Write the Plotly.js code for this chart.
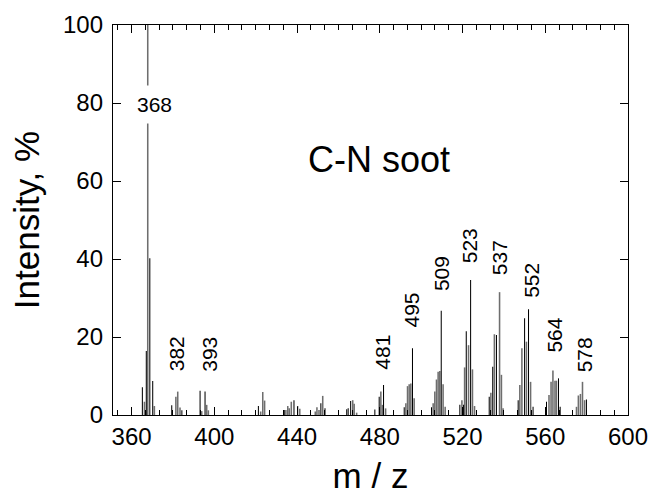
<!DOCTYPE html>
<html>
<head>
<meta charset="utf-8">
<script src="https://cdn.plot.ly/plotly-3.0.1.min.js"></script>
<style>html,body{margin:0;padding:0;background:#fff;}#chart{width:654px;height:496px;}</style>
</head>
<body>
<div id="chart"></div>
<script>
// Black stick lines (m/z, intensity %)
const blackMz = [365.2, 367.1, 368.8, 370.2, 379.4, 384.3, 393.1, 395.5,
  421.3, 433.8, 438.5, 440.3, 451.5, 453.5, 464.0, 464.7, 465.9,
  477.6, 479.7, 481.8, 491.8, 495.8, 505.0, 509.7, 518.7, 520.5, 521.8, 523.9,
  532.9, 534.6, 536.4, 546.9, 550.0, 551.9, 554.1, 560.6, 566.4, 567.2, 579.9];
const blackInt = [7.1, 16.4, 40.2, 8.7, 2.5, 1.2, 6.2, 6.0,
  2.3, 1.3, 3.8, 2.3, 3.0, 1.7, 1.5, 1.7, 3.6,
  1.4, 4.7, 7.7, 2.0, 17.1, 2.0, 26.7, 2.6, 2.6, 21.5, 34.6,
  4.7, 12.4, 20.5, 3.8, 24.8, 27.1, 2.1, 3.4, 9.4, 2.1, 4.0];

// Grey stick lines (m/z, intensity %)
const greyMz = [366.2, 367.8, 371.0, 381.4, 382.3, 383.4, 393.9, 396.3, 397.1,
  422.4, 423.4, 424.3, 434.6, 435.5, 436.2, 437.2, 441.3, 448.8, 449.6, 450.6, 452.4,
  466.9, 467.6, 468.8, 480.5, 481.2, 482.8, 492.6, 493.4, 494.2, 495.0, 496.6,
  505.8, 506.6, 507.4, 508.2, 509.0, 510.6, 511.6, 519.7, 521.0, 522.9, 524.8, 525.8,
  533.7, 535.4, 537.9, 538.8, 539.6, 547.7, 548.7, 550.9, 552.9,
  561.8, 562.8, 563.7, 564.7, 565.4, 575.1, 576.0, 577.0, 578.0, 579.0];
const greyInt = [3.4, 100, 2.3, 4.7, 6.0, 1.9, 1.0, 2.6, 1.2,
  0.9, 5.9, 3.7, 1.3, 2.3, 1.7, 3.4, 1.6, 0.9, 2.0, 1.3, 4.9,
  3.8, 2.9, 0.6, 6.0, 2.6, 1.7, 3.0, 7.4, 7.9, 8.1, 4.3,
  3.0, 6.0, 9.1, 11.1, 11.3, 7.9, 2.1, 3.8, 12.2, 17.9, 11.7, 2.3,
  5.7, 20.7, 31.5, 10.3, 1.7, 7.7, 17.1, 18.8, 8.5,
  5.1, 8.5, 11.4, 8.8, 8.8, 2.1, 5.0, 5.4, 8.5, 3.8];

// Peak labels
const peakLabels = ["382", "393", "481", "495", "509", "523", "537", "552", "564", "578"];
const peakLabelX = [381.5, 397.7, 481.3, 495.3, 509.9, 523.1, 538.0, 553.3, 564.3, 579.1];
const peakLabelY = [15.6, 15.6, 16.1, 26.9, 36.3, 43.5, 40.4, 34.5, 20.4, 15.5];

const xTicks = [360, 400, 440, 480, 520, 560, 600];
const yTicks = [0, 20, 40, 60, 80, 100];

const FONT = "Liberation Sans, Arial, Helvetica, sans-serif";

const traces = [
  {type: "bar", x: greyMz, y: greyInt, width: 0.75,
   marker: {color: "#6e6e6e", line: {width: 0}}, hoverinfo: "x+y", showlegend: false},
  {type: "bar", x: blackMz, y: blackInt, width: 0.5,
   marker: {color: "#000000", line: {width: 0}}, hoverinfo: "x+y", showlegend: false}
];

const annotations = peakLabels.map((t, i) => ({
  x: peakLabelX[i], y: peakLabelY[i], xref: "x", yref: "y", text: t,
  textangle: -90, showarrow: false, xanchor: "center", yanchor: "middle",
  font: {family: FONT, size: 21, color: "#000"}
}));
annotations.push({
  x: 371.1, y: 79.6, xref: "x", yref: "y", text: "368", showarrow: false,
  xanchor: "center", yanchor: "middle", bgcolor: "#ffffff", borderpad: 7,
  font: {family: FONT, size: 21, color: "#000"}
});
annotations.push({
  x: 479.6, y: 65.4, xref: "x", yref: "y", text: "C-N soot", showarrow: false,
  xanchor: "center", yanchor: "middle",
  font: {family: FONT, size: 36, color: "#000"}
});

const layout = {
  width: 654, height: 496,
  margin: {l: 113, r: 26, t: 25, b: 81, pad: 0},
  paper_bgcolor: "#fff", plot_bgcolor: "#fff",
  font: {family: FONT, color: "#000"},
  barmode: "overlay",
  xaxis: {
    range: [351, 600], tickmode: "array", tickvals: xTicks, ticktext: xTicks.map(String),
    ticks: "inside", ticklen: 8, tickwidth: 1, tickcolor: "#000",
    minor: {tick0: 360, dtick: 40/6, ticks: "inside", ticklen: 5, tickwidth: 1, tickcolor: "#000"},
    showline: true, linecolor: "#000", linewidth: 1.2, mirror: "allticks",
    showgrid: false, zeroline: false,
    tickfont: {family: FONT, size: 24, color: "#000"},
    title: {text: "m / z", font: {family: FONT, size: 35, color: "#000"}, standoff: 14}
  },
  yaxis: {
    range: [0, 100], tickmode: "array", tickvals: yTicks, ticktext: yTicks.map(String),
    ticks: "inside", ticklen: 8, tickwidth: 1, tickcolor: "#000",
    ticklabelstandoff: 4,
    showline: true, linecolor: "#000", linewidth: 1.2, mirror: "allticks",
    showgrid: false, zeroline: false,
    tickfont: {family: FONT, size: 24, color: "#000"},
    title: {text: "Intensity, %", font: {family: FONT, size: 35, color: "#000"}, standoff: 12}
  },
  annotations: annotations
};

Plotly.newPlot("chart", traces, layout, {displayModeBar: false, staticPlot: true});
</script>
</body>
</html>
